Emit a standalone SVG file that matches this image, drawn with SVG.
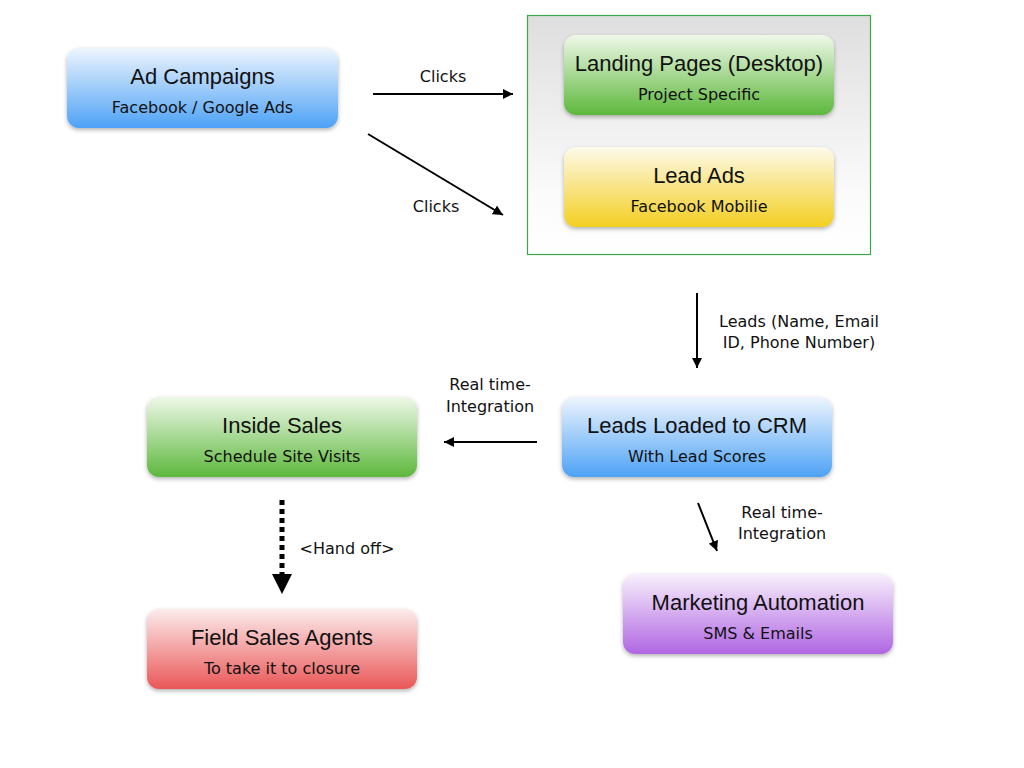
<svg xmlns="http://www.w3.org/2000/svg" width="1024" height="768" viewBox="0 0 1024 768">
<defs>
  <linearGradient id="gBlue" x1="0" y1="0" x2="0" y2="1">
    <stop offset="0" stop-color="#eef5fd"/>
    <stop offset="1" stop-color="#4da2f6"/>
  </linearGradient>
  <linearGradient id="gGreen" x1="0" y1="0" x2="0" y2="1">
    <stop offset="0" stop-color="#eef8e8"/>
    <stop offset="1" stop-color="#5db83c"/>
  </linearGradient>
  <linearGradient id="gYellow" x1="0" y1="0" x2="0" y2="1">
    <stop offset="0" stop-color="#fdfaea"/>
    <stop offset="1" stop-color="#f3cf22"/>
  </linearGradient>
  <linearGradient id="gRed" x1="0" y1="0" x2="0" y2="1">
    <stop offset="0" stop-color="#fcecec"/>
    <stop offset="1" stop-color="#ea5757"/>
  </linearGradient>
  <linearGradient id="gPurple" x1="0" y1="0" x2="0" y2="1">
    <stop offset="0" stop-color="#f8f0fc"/>
    <stop offset="1" stop-color="#b066e3"/>
  </linearGradient>
  <linearGradient id="gPanel" x1="0" y1="0" x2="0" y2="1">
    <stop offset="0" stop-color="#dedede"/>
    <stop offset="0.75" stop-color="#fbfbfb"/>
    <stop offset="1" stop-color="#ffffff"/>
  </linearGradient>
  <filter id="shadow" x="-10%" y="-20%" width="120%" height="150%">
    <feDropShadow dx="0" dy="2" stdDeviation="2" flood-color="#000" flood-opacity="0.3"/>
  </filter>
  <marker id="arrow" viewBox="0 0 10 10" refX="10" refY="5" markerWidth="10" markerHeight="10" markerUnits="userSpaceOnUse" orient="auto">
    <path d="M0,0 L10,5 L0,10 z" fill="#000"/>
  </marker>
  <style>
    .node rect { filter: url(#shadow); }
    .title { font-family: "Liberation Sans", Arial, sans-serif; font-size: 22px; fill: #111; text-anchor: middle; }
    .sub { font-family: "DejaVu Sans", Verdana, sans-serif; font-size: 16px; fill: #111; text-anchor: middle; }
    .lbl { font-family: "DejaVu Sans", Verdana, sans-serif; font-size: 16px; fill: #111; text-anchor: middle; }
    .conn { stroke: #000; stroke-width: 2; fill: none; marker-end: url(#arrow); }
  </style>
</defs>
<rect width="1024" height="768" fill="#ffffff"/>

<g id="panel">
  <rect x="527.5" y="15.5" width="343" height="239" fill="url(#gPanel)" stroke="#3ca64b" stroke-width="1.2"/>
</g>

<g id="ad-campaigns" class="node">
  <rect x="67" y="48" width="271" height="80" rx="12" fill="url(#gBlue)"/>
  <text class="title" x="202.5" y="84">Ad Campaigns</text>
  <text class="sub" x="202.5" y="113">Facebook / Google Ads</text>
</g>

<g id="landing-pages" class="node">
  <rect x="564" y="35" width="270" height="80" rx="12" fill="url(#gGreen)"/>
  <text class="title" x="699" y="71">Landing Pages (Desktop)</text>
  <text class="sub" x="699" y="100">Project Specific</text>
</g>

<g id="lead-ads" class="node">
  <rect x="564" y="147" width="270" height="80" rx="12" fill="url(#gYellow)"/>
  <text class="title" x="699" y="183">Lead Ads</text>
  <text class="sub" x="699" y="212">Facebook Mobilie</text>
</g>

<g id="leads-crm" class="node">
  <rect x="562" y="397" width="270" height="80" rx="12" fill="url(#gBlue)"/>
  <text class="title" x="697" y="433">Leads Loaded to CRM</text>
  <text class="sub" x="697" y="462">With Lead Scores</text>
</g>

<g id="inside-sales" class="node">
  <rect x="147" y="397" width="270" height="80" rx="12" fill="url(#gGreen)"/>
  <text class="title" x="282" y="433">Inside Sales</text>
  <text class="sub" x="282" y="462">Schedule Site Visits</text>
</g>

<g id="field-sales" class="node">
  <rect x="147" y="609" width="270" height="80" rx="12" fill="url(#gRed)"/>
  <text class="title" x="282" y="645">Field Sales Agents</text>
  <text class="sub" x="282" y="674">To take it to closure</text>
</g>

<g id="marketing-automation" class="node">
  <rect x="623" y="574" width="270" height="80" rx="12" fill="url(#gPurple)"/>
  <text class="title" x="758" y="610">Marketing Automation</text>
  <text class="sub" x="758" y="639">SMS &amp; Emails</text>
</g>

<g id="connectors">
  <line class="conn" x1="373" y1="94" x2="513" y2="94"/>
  <line class="conn" x1="368" y1="134" x2="503" y2="215"/>
  <line class="conn" x1="697" y1="293" x2="697" y2="368"/>
  <line class="conn" x1="537" y1="442" x2="444" y2="442"/>
  <line class="conn" x1="698" y1="503" x2="717" y2="551"/>
  <line x1="282" y1="500" x2="282" y2="574" stroke="#000" stroke-width="5" stroke-dasharray="5 4"/>
  <path d="M272,574 L292,574 L282,594 z" fill="#000"/>
  <text class="lbl" x="443" y="82">Clicks</text>
  <text class="lbl" x="436" y="212">Clicks</text>
  <text class="lbl" x="799" y="327">Leads (Name, Email</text>
  <text class="lbl" x="799" y="348">ID, Phone Number)</text>
  <text class="lbl" x="490" y="390">Real time-</text>
  <text class="lbl" x="490" y="412">Integration</text>
  <text class="lbl" x="782" y="518">Real time-</text>
  <text class="lbl" x="782" y="539">Integration</text>
  <text class="lbl" x="347" y="554">&lt;Hand off&gt;</text>
</g>
</svg>
